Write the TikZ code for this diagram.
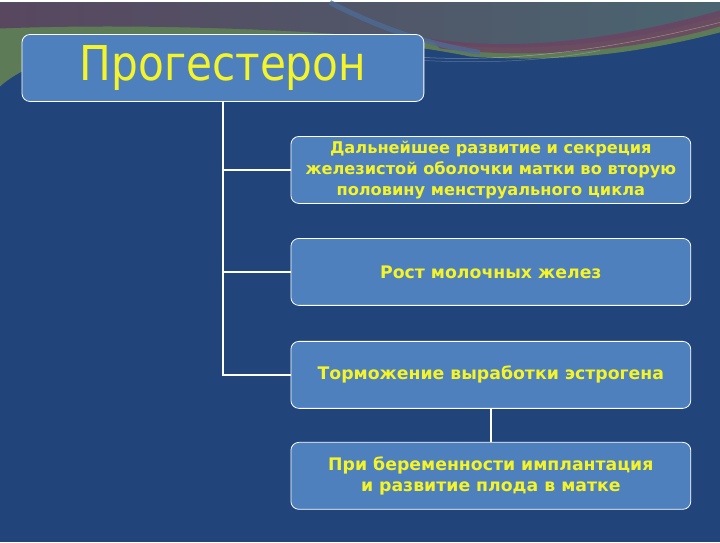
\documentclass[tikz,border=0pt]{standalone}
\usepackage{fontspec}
\setmainfont{DejaVu Sans}
\newfontfamily\cimfont{DejaVu Sans}[FakeStretch=0.88]
\usetikzlibrary{calc}
\definecolor{hatter}{HTML}{21457A}
\definecolor{dobozkek}{HTML}{4F80BE}
\definecolor{sarga}{HTML}{F4F428}
\definecolor{zold}{HTML}{5E7B57}
\definecolor{lila}{HTML}{58475F}
\definecolor{turkiz}{HTML}{4A6571}
\definecolor{bordo}{HTML}{6E4262}

\begin{document}
\begin{tikzpicture}[x=1pt,y=-1pt,
blokk/.style={rectangle,minimum width=400pt,minimum height=67pt,inner sep=2pt,rounded corners=8pt,draw=white,line width=0.8pt,fill=dobozkek,text=sarga,align=center,font=\fontsize{17.3}{21}\selectfont\bfseries},
fejlec/.style={blokk,minimum width=402pt,font=\fontsize{48}{50}\selectfont\cimfont}]
% hatter
\fill[hatter] (0,0) rectangle (720,540);
\fill[zold] (0,84) .. controls (70,20) and (330,25) .. (470,54) .. controls (580,62) and (660,45) .. (720,30) -- (720,0) -- (0,0) -- cycle;
\shade[left color=lila, right color=turkiz] (0,26) .. controls (150,20) and (350,28) .. (470,44) .. controls (580,50) and (660,30) .. (720,14) -- (720,0) -- (0,0) -- cycle;
\fill[bordo, opacity=.8] (430,36) .. controls (520,50) and (620,36) .. (720,8) -- (720,24) .. controls (640,47) and (540,58) .. (440,46) -- cycle;
\draw[line width=5pt, hatter!80!white, opacity=.8] (330,0) .. controls (380,25) and (420,40) .. (480,50);
\draw[white, opacity=.35, line width=.5pt] (424,55) .. controls (520,60) and (620,45) .. (720,20);
\draw[white, opacity=.25, line width=.5pt] (424,58) .. controls (500,62) and (560,56) .. (600,48);
% csomopontok
\node[fejlec](cim) at (223,65.5){Прогестерон};
\node[blokk, font=\fontsize{16.2}{21}\selectfont\bfseries](b1) at (491,167.5){Дальнейшее развитие и секреция\\железистой оболочки матки во вторую\\половину менструального цикла};
\node[blokk](b2) at (491,269.5){Рост молочных желез};
\node[blokk](b3) at (491,372.5){Торможение выработки эстрогена};
\node[blokk](b4) at (491,473.5){При беременности имплантация\\и развитие плода в матке};
\begin{scope}[white, line width=1.6pt]
 \draw (cim.south)|-(b1);
 \draw (cim.south)|-(b2);
 \draw (cim.south)|-(b3);
 \draw (b3)--(b4);
\end{scope}
\end{tikzpicture}
\end{document}
